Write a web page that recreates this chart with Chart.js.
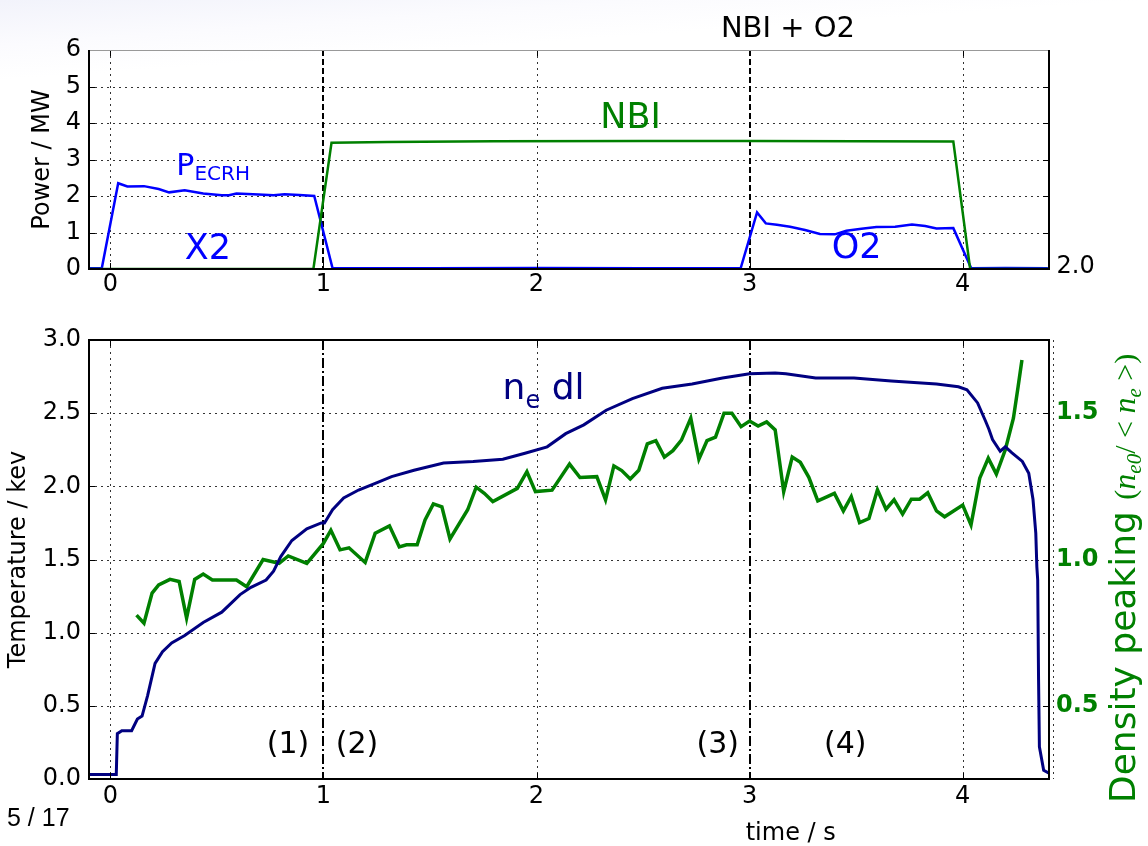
<!DOCTYPE html>
<html>
<head>
<meta charset="utf-8">
<script src="https://cdn.jsdelivr.net/npm/chart.js@4.4.0/dist/chart.umd.min.js"></script>
<style>
  html, body { margin: 0; padding: 0; background: #fff; }
  #wrap {
    position: relative; width: 1148px; height: 846px; overflow: hidden;
    background: linear-gradient(176deg, #f2f3fb 0px, #fbfbfe 45px, #ffffff 80px);
  }
  #topChart { position: absolute; left: 0; top: 0; }
  #botChart { position: absolute; left: 0; top: 300px; }
</style>
</head>
<body>
<div id="wrap">
  <canvas id="topChart" width="1148" height="310"></canvas>
  <canvas id="botChart" width="1148" height="546"></canvas>
</div>
<script>
// ---- tick values ----
const tickTime = [0, 1, 2, 3, 4];
const tickPower = [0, 1, 2, 3, 4, 5, 6];
const tickTemp = [0, 0.5, 1.0, 1.5, 2.0, 2.5, 3.0];
const tickPeak = [0.5, 1.0, 1.5];
const phaseTimes = [1, 3];

// ---- heating power (MW) ----
const ecrhTime = [-0.10, -0.04, 0.037, 0.08, 0.158, 0.227, 0.276, 0.349, 0.436, 0.523,
  0.557, 0.592, 0.696, 0.766, 0.818, 0.887, 0.957, 1.043, 1.5, 2.0,
  2.5, 2.958, 3.035, 3.076, 3.128, 3.19, 3.26, 3.33, 3.40, 3.454,
  3.525, 3.595, 3.683, 3.762, 3.824, 3.877, 3.956, 4.04, 4.2, 4.40];
const ecrhPower = [0.02, 0.02, 2.35, 2.26, 2.27, 2.19, 2.10, 2.16, 2.07, 2.02,
  2.02, 2.07, 2.04, 2.02, 2.05, 2.03, 2.00, 0.02, 0.02, 0.03,
  0.02, 0.02, 1.55, 1.25, 1.21, 1.16, 1.07, 0.96, 0.95, 1.05,
  1.10, 1.15, 1.16, 1.22, 1.18, 1.11, 1.12, 0.02, 0.03, 0.02];
const nbiTime = [-0.10, 0.953, 1.038, 1.3, 1.8, 2.5, 3.0, 3.5, 3.956, 4.035, 4.40];
const nbiPower = [0.0, 0.0, 3.46, 3.48, 3.50, 3.51, 3.51, 3.50, 3.49, 0.0, 0.0];

// ---- line density (left axis scale) ----
const neTime = [-0.10, 0.028, 0.033, 0.054, 0.10, 0.127, 0.149, 0.175, 0.21, 0.245,
  0.288, 0.349, 0.436, 0.523, 0.609, 0.66, 0.731, 0.766, 0.80, 0.852,
  0.922, 0.99, 1.005, 1.043, 1.095, 1.165, 1.252, 1.32, 1.425, 1.564,
  1.703, 1.842, 1.946, 2.05, 2.137, 2.222, 2.327, 2.45, 2.59, 2.73,
  2.873, 3.0, 3.12, 3.17, 3.31, 3.49, 3.665, 3.877, 3.98, 4.02,
  4.07, 4.106, 4.123, 4.14, 4.176, 4.2, 4.23, 4.28, 4.31, 4.33,
  4.343, 4.348, 4.352, 4.356, 4.36, 4.38, 4.405];
const neValue = [0.03, 0.03, 0.31, 0.33, 0.33, 0.41, 0.43, 0.57, 0.79, 0.87,
  0.93, 0.98, 1.07, 1.14, 1.26, 1.31, 1.36, 1.42, 1.52, 1.63,
  1.71, 1.75, 1.75, 1.84, 1.92, 1.975, 2.025, 2.066, 2.11, 2.16,
  2.17, 2.185, 2.226, 2.27, 2.36, 2.42, 2.52, 2.60, 2.67, 2.70,
  2.74, 2.77, 2.775, 2.77, 2.74, 2.74, 2.72, 2.70, 2.68, 2.66,
  2.57, 2.45, 2.39, 2.32, 2.24, 2.27, 2.23, 2.17, 2.09, 1.91,
  1.68, 1.45, 1.36, 0.68, 0.22, 0.06, 0.04];

// ---- density peaking (right axis) ----
const peakTime = [0.123, 0.158, 0.196, 0.227, 0.28, 0.323, 0.358, 0.396, 0.436, 0.479,
  0.592, 0.64, 0.717, 0.792, 0.835, 0.922, 1.0, 1.035, 1.078, 1.12,
  1.196, 1.243, 1.31, 1.356, 1.39, 1.44, 1.477, 1.516, 1.556, 1.594,
  1.677, 1.717, 1.755, 1.795, 1.91, 1.955, 1.995, 2.073, 2.155, 2.204,
  2.283, 2.324, 2.363, 2.40, 2.44, 2.48, 2.52, 2.56, 2.60, 2.64,
  2.68, 2.724, 2.762, 2.80, 2.84, 2.88, 2.917, 2.96, 3.0, 3.04,
  3.08, 3.12, 3.16, 3.2, 3.238, 3.278, 3.32, 3.357, 3.398, 3.44,
  3.477, 3.516, 3.56, 3.6, 3.64, 3.678, 3.718, 3.759, 3.798, 3.836,
  3.877, 3.915, 4.0, 4.039, 4.08, 4.12, 4.158, 4.2, 4.238, 4.26, 4.278];
const peakValue = [0.81, 0.782, 0.885, 0.913, 0.932, 0.925, 0.80, 0.932, 0.95, 0.93,
  0.93, 0.907, 1.0, 0.987, 1.012, 0.987, 1.055, 1.10, 1.033, 1.04,
  0.99, 1.09, 1.115, 1.043, 1.05, 1.05, 1.135, 1.19, 1.18, 1.07,
  1.17, 1.247, 1.226, 1.198, 1.243, 1.30, 1.232, 1.237, 1.326, 1.28,
  1.283, 1.204, 1.32, 1.304, 1.275, 1.305, 1.395, 1.406, 1.35, 1.372,
  1.408, 1.483, 1.343, 1.406, 1.418, 1.50, 1.50, 1.454, 1.473, 1.456,
  1.47, 1.443, 1.232, 1.35, 1.332, 1.281, 1.20, 1.212, 1.226, 1.166,
  1.215, 1.126, 1.14, 1.238, 1.172, 1.204, 1.155, 1.206, 1.206, 1.228,
  1.166, 1.146, 1.186, 1.118, 1.278, 1.346, 1.292, 1.375, 1.483, 1.59, 1.682];

const GREEN = '#008000', BLUE = '#0000ff', NAVY = '#000080';
const SANS = 'DejaVu Sans';
const xy = (xs, ys) => xs.map((x, i) => ({x: x, y: ys[i]}));

// plain text helper
function txt(ctx, s, x, y, font, color, align) {
  ctx.font = font; ctx.fillStyle = color || '#000';
  ctx.textAlign = align || 'left'; ctx.textBaseline = 'alphabetic';
  ctx.fillText(s, x, y);
}
// rotated (bottom to top) label, x = baseline, y = centre
function vtext(ctx, s, x, y, font, color) {
  ctx.save(); ctx.translate(x, y); ctx.rotate(-Math.PI / 2);
  txt(ctx, s, 0, 0, font, color, 'center');
  ctx.restore();
}
// text with subscript parts: [[str, font, dy], ...]
function runs(ctx, parts, x, y, color) {
  let cx = x;
  parts.forEach(p => {
    txt(ctx, p[0], cx, y + (p[2] || 0), p[1], color);
    cx += ctx.measureText(p[0]).width;
  });
}

// grid, phase lines, spines and inward ticks
function frame(opts) {
  return {
    id: 'frame',
    beforeDatasetsDraw(chart) {
      const {ctx, chartArea: a, scales} = chart;
      ctx.save();
      ctx.strokeStyle = '#333'; ctx.lineWidth = 1; ctx.setLineDash([2, 4]);
      tickTime.forEach(t => {
        if (phaseTimes.includes(t)) return;
        const px = Math.round(scales.x.getPixelForValue(t)) + 0.5;
        ctx.beginPath(); ctx.moveTo(px, a.top); ctx.lineTo(px, a.bottom); ctx.stroke();
      });
      opts.yTicks.forEach(v => {
        const py = Math.round(scales.y.getPixelForValue(v)) + 0.5;
        ctx.beginPath(); ctx.moveTo(a.left, py); ctx.lineTo(a.right, py); ctx.stroke();
      });
      if (opts.extraRight) {
        const px = a.right + 4.5;
        ctx.beginPath(); ctx.moveTo(px, a.top); ctx.lineTo(px, a.bottom); ctx.stroke();
      }
      ctx.strokeStyle = '#000'; ctx.lineWidth = 2; ctx.setLineDash(opts.phaseDash);
      phaseTimes.forEach(t => {
        const px = Math.round(scales.x.getPixelForValue(t));
        ctx.beginPath(); ctx.moveTo(px, a.top); ctx.lineTo(px, a.bottom); ctx.stroke();
      });
      ctx.restore();
    },
    afterDatasetsDraw(chart) {
      const {ctx, chartArea: a, scales} = chart;
      ctx.save();
      ctx.setLineDash([]); ctx.strokeStyle = '#000'; ctx.lineWidth = 1;
      tickTime.forEach(t => {
        const px = Math.round(scales.x.getPixelForValue(t)) + 0.5;
        ctx.beginPath(); ctx.moveTo(px, a.bottom); ctx.lineTo(px, a.bottom - 6);
        ctx.moveTo(px, a.top); ctx.lineTo(px, a.top + 6); ctx.stroke();
      });
      opts.yTicks.forEach(v => {
        const py = Math.round(scales.y.getPixelForValue(v)) + 0.5;
        ctx.beginPath(); ctx.moveTo(a.left, py); ctx.lineTo(a.left + 6, py);
        if (!scales.y1) { ctx.moveTo(a.right, py); ctx.lineTo(a.right - 6, py); }
        ctx.stroke();
      });
      if (scales.y1) {
        tickPeak.forEach(v => {
          const py = Math.round(scales.y1.getPixelForValue(v)) + 0.5;
          ctx.beginPath(); ctx.moveTo(a.right, py); ctx.lineTo(a.right - 6, py); ctx.stroke();
        });
      }
      // spines
      ctx.lineWidth = 2;
      if (opts.topGray) {
        ctx.strokeStyle = '#999'; ctx.lineWidth = 1;
        ctx.beginPath(); ctx.moveTo(a.left, a.top + 0.5); ctx.lineTo(a.right, a.top + 0.5); ctx.stroke();
        ctx.strokeStyle = '#000'; ctx.lineWidth = 2;
        ctx.beginPath(); ctx.moveTo(a.left, a.top); ctx.lineTo(a.left, a.bottom);
        ctx.lineTo(a.right, a.bottom); ctx.lineTo(a.right, a.top); ctx.stroke();
      } else {
        ctx.strokeRect(a.left, a.top, a.right - a.left, a.bottom - a.top);
      }
      opts.texts(ctx, chart);
      ctx.restore();
    }
  };
}

const baseTicks = {font: {family: SANS, size: 24}, color: '#000', autoSkip: false, maxRotation: 0};

// ---------- top panel: heating power ----------
new Chart(document.getElementById('topChart'), {
  type: 'line',
  data: {
    datasets: [
      {label: 'NBI', data: xy(nbiTime, nbiPower), borderColor: GREEN, borderWidth: 2.5},
      {label: 'P_ECRH', data: xy(ecrhTime, ecrhPower), borderColor: BLUE, borderWidth: 2.5}
    ]
  },
  options: {
    responsive: false, animation: false, devicePixelRatio: 1,
    layout: {padding: {top: 50, left: 0, right: 99, bottom: 0}},
    elements: {point: {radius: 0}, line: {tension: 0, fill: false}},
    plugins: {legend: {display: false}, tooltip: {enabled: false}},
    scales: {
      x: {
        type: 'linear', min: -0.1, max: 4.405,
        afterBuildTicks: s => { s.ticks = tickTime.map(v => ({value: v})); },
        afterFit: s => { s.height = 41; },
        grid: {display: false, drawTicks: false}, border: {display: false},
        ticks: Object.assign({}, baseTicks, {padding: 1})
      },
      y: {
        min: 0, max: 6,
        afterBuildTicks: s => { s.ticks = tickPower.map(v => ({value: v})); },
        afterFit: s => { s.width = 89; },
        grid: {display: false, drawTicks: false}, border: {display: false},
        ticks: Object.assign({}, baseTicks, {padding: 8})
      }
    }
  },
  plugins: [frame({
    yTicks: tickPower, phaseDash: [6, 3], topGray: true,
    texts: (ctx, chart) => {
      const a = chart.chartArea, x = chart.scales.x, y = chart.scales.y;
      runs(ctx, [['P', '30px ' + SANS], ['ECRH', '20px ' + SANS, 5]], x.getPixelForValue(0.31), y.getPixelForValue(2.57), BLUE);
      txt(ctx, 'X2', x.getPixelForValue(0.349), y.getPixelForValue(0.27), '35px ' + SANS, BLUE);
      txt(ctx, 'NBI', x.getPixelForValue(2.299), y.getPixelForValue(3.85), '35px ' + SANS, GREEN);
      txt(ctx, 'O2', x.getPixelForValue(3.385), y.getPixelForValue(0.29), '35px ' + SANS, BLUE);
      txt(ctx, 'NBI + O2', x.getPixelForValue(3.18), 37, '29px ' + SANS, '#000', 'center');
      txt(ctx, '2.0', a.right + 7.5, a.bottom + 4, '24px ' + SANS, '#000');
      vtext(ctx, 'Power / MW', 49, (a.top + a.bottom) / 2, '24px ' + SANS, '#000');
    }
  })]
});

// ---------- bottom panel: density and peaking ----------
new Chart(document.getElementById('botChart'), {
  type: 'line',
  data: {
    datasets: [
      {label: 'ne dl', data: xy(neTime, neValue), borderColor: NAVY, borderWidth: 3, yAxisID: 'y'},
      {label: 'peaking', data: xy(peakTime, peakValue), borderColor: GREEN, borderWidth: 3.5, yAxisID: 'y1'}
    ]
  },
  options: {
    responsive: false, animation: false, devicePixelRatio: 1,
    layout: {padding: {top: 40, left: 0, right: 0, bottom: 0}},
    elements: {point: {radius: 0}, line: {tension: 0, fill: false}},
    plugins: {legend: {display: false}, tooltip: {enabled: false}},
    scales: {
      x: {
        type: 'linear', min: -0.1, max: 4.405,
        afterBuildTicks: s => { s.ticks = tickTime.map(v => ({value: v})); },
        afterFit: s => { s.height = 67; },
        grid: {display: false, drawTicks: false}, border: {display: false},
        ticks: Object.assign({}, baseTicks, {padding: 3})
      },
      y: {
        position: 'left', min: 0, max: 3,
        afterBuildTicks: s => { s.ticks = tickTemp.map(v => ({value: v})); },
        afterFit: s => { s.width = 89; },
        grid: {display: false, drawTicks: false}, border: {display: false},
        ticks: Object.assign({}, baseTicks, {padding: 8, callback: v => v.toFixed(1)})
      },
      y1: {
        position: 'right', min: 0.25, max: 1.75,
        afterBuildTicks: s => { s.ticks = tickPeak.map(v => ({value: v})); },
        afterFit: s => { s.width = 99; },
        grid: {display: false, drawTicks: false}, border: {display: false},
        ticks: {font: {family: SANS, size: 24, weight: 'bold'}, color: GREEN, padding: 7,
          autoSkip: false, callback: v => v.toFixed(1)}
      }
    }
  },
  plugins: [frame({
    yTicks: tickTemp, phaseDash: [10, 3, 2, 3], extraRight: true,
    texts: (ctx, chart) => {
      const a = chart.chartArea, x = chart.scales.x, y = chart.scales.y;
      runs(ctx, [['n', '36px ' + SANS], ['e', '24px ' + SANS, 9], [' dl', '36px ' + SANS]],
        x.getPixelForValue(1.841), y.getPixelForValue(2.60), NAVY);
      const phaseY = y.getPixelForValue(0.178);
      txt(ctx, '(1)', x.getPixelForValue(0.734), phaseY, '30px ' + SANS);
      txt(ctx, '(2)', x.getPixelForValue(1.058), phaseY, '30px ' + SANS);
      txt(ctx, '(3)', x.getPixelForValue(2.751), phaseY, '30px ' + SANS);
      txt(ctx, '(4)', x.getPixelForValue(3.349), phaseY, '30px ' + SANS);
      txt(ctx, 'time / s', x.getPixelForValue(3.193), 540, '24px ' + SANS, '#000', 'center');
      txt(ctx, '5 / 17', 7, 526, '25px "Liberation Sans"', '#000');
      vtext(ctx, 'Temperature / kev', 25, (a.top + a.bottom) / 2, '24px ' + SANS, '#000');
      // right axis label: Density peaking (n_e0 / <n_e>)
      ctx.save();
      ctx.translate(a.right + 86, 503); ctx.rotate(-Math.PI / 2);
      const serif = '"Liberation Serif"';
      runs(ctx, [
        ['Density peaking ', '36px ' + SANS],
        ['(', '30px ' + serif],
        ['n', 'italic 32px ' + serif], ['e0', 'italic 21px ' + serif, 6],
        ['/ < ', '30px ' + serif],
        ['n', 'italic 32px ' + serif], ['e', 'italic 21px ' + serif, 6],
        [' >)', '30px ' + serif]
      ], 0, 0, GREEN);
      ctx.restore();
    }
  })]
});
</script>
</body>
</html>
